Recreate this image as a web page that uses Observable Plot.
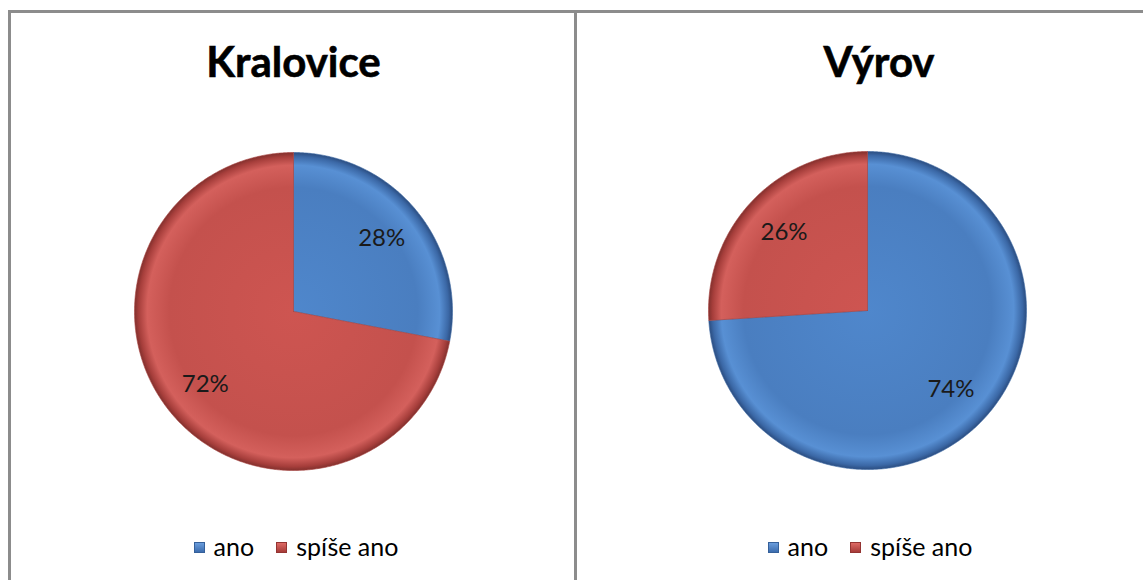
<!DOCTYPE html>
<html><head><meta charset="utf-8">
<script src="https://cdn.jsdelivr.net/npm/d3@7"></script>
<script src="https://cdn.jsdelivr.net/npm/@observablehq/plot@0.6"></script>
<style>
body{margin:0;background:#fff;}
#wrap{position:relative;width:1143px;height:580px;overflow:hidden;font-family:Lato,"Open Sans",sans-serif;background:#fff;}
.panel{position:absolute;top:10px;border:3px solid #8c8c8c;border-bottom:none;height:620px;box-sizing:border-box;}
.chart{position:absolute;top:0;}
.title{position:absolute;top:36px;height:50px;line-height:50px;font-size:42px;font-weight:bold;color:#000;text-align:center;white-space:nowrap;-webkit-text-stroke:0.6px #000;}
.legend{position:absolute;top:531px;height:30px;line-height:30px;font-size:25px;color:#000;text-align:center;width:400px;white-space:nowrap;}
.sw{display:inline-block;width:11px;height:11px;vertical-align:3px;margin-right:9px;box-sizing:border-box;}
.item{display:inline-block;margin:0 11px;}
</style>
</head><body>
<div id="wrap"></div>
<script>
// ---- data ----
const cities = ["Kralovice", "Výrov"];
const categories = ["ano", "spíše ano"];
const kralovice = [28, 72];
const vyrov = [74, 26];
const seriesByCity = [kralovice, vyrov];
const colors = ["#4a7ebb", "#c0504d"];

// ---- layout (not data) ----
const layout = [
  {svgLeft: 8, mL: 126, mR: 122, mT: 152, mB: 110, titleX: 293.5, legendX: 296},
  {svgLeft: 576, mL: 132, mR: 116, mT: 151, mB: 111, titleX: 879, legendX: 870}
];
const gradStops = {
  "ano": [[0, "#4f87cc"], [0.78, "#4a7ec0"], [0.92, "#5890d4"], [0.975, "#3b68a6"], [1, "#2b4d80"]],
  "spíše ano": [[0, "#ce5551"], [0.78, "#c4514d"], [0.92, "#d4605c"], [0.975, "#a63e3b"], [1, "#82302d"]]
};
const sideColor = {"ano": "#3d6aa3", "spíše ano": "#a84340"};

const wrap = document.getElementById("wrap");
// panel borders
const p1 = document.createElement("div"); p1.className = "panel";
p1.style.left = "8px"; p1.style.width = "569px"; wrap.appendChild(p1);
const p2 = document.createElement("div"); p2.className = "panel";
p2.style.left = "574px"; p2.style.width = "700px"; p2.style.borderLeft = "none"; wrap.appendChild(p2);

cities.forEach((city, ci) => {
  const L = layout[ci];
  const rows = categories.map((c, i) => ({city, category: c, value: seriesByCity[ci][i]}));
  const arcs = d3.pie().sort(null).value(d => d.value)(rows);
  // slice outlines in data space (unit circle, 0 = 12 o'clock, clockwise)
  const slicePts = arcs.map(a => {
    const pts = [{x: 0, y: 0, category: a.data.category}];
    const n = Math.max(2, Math.ceil((a.endAngle - a.startAngle) / (Math.PI / 360)));
    for (let k = 0; k <= n; k++) {
      const t = a.startAngle + (a.endAngle - a.startAngle) * k / n;
      pts.push({x: Math.sin(t), y: Math.cos(t), category: a.data.category});
    }
    pts.push({x: 0, y: 0, category: a.data.category});
    return pts;
  });
  const labels = arcs.map(a => {
    const m = (a.startAngle + a.endAngle) / 2;
    return {x: 0.72 * Math.sin(m), y: 0.72 * Math.cos(m), text: a.data.value + "%"};
  });
  const gid = c => `g${ci}-${categories.indexOf(c)}`;

  const defsMark = (index, scales) => {
    const cx = scales.x(0), cy = scales.y(0), r = scales.x(1) - cx;
    const defs = d3.create("svg:defs");
    categories.forEach(c => {
      const g = defs.append("radialGradient").attr("id", gid(c))
        .attr("gradientUnits", "userSpaceOnUse")
        .attr("cx", cx).attr("cy", cy).attr("r", r);
      gradStops[c].forEach(([o, col]) => g.append("stop").attr("offset", o).attr("stop-color", col));
    });
    return defs.node();
  };

  const chart = Plot.plot({
    width: 566, height: 580,
    marginLeft: L.mL, marginRight: L.mR, marginTop: L.mT, marginBottom: L.mB,
    x: {domain: [-1, 1], axis: null},
    y: {domain: [-1, 1], axis: null},
    style: {background: "transparent", overflow: "visible"},
    marks: [
      defsMark,
      ...slicePts.map(pts => Plot.line(pts, {
        x: "x", y: "y", fill: `url(#${gid(pts[0].category)})`,
        stroke: sideColor[pts[0].category], strokeWidth: 0.8, strokeOpacity: 0.8
      })),
      Plot.text(labels, {x: "x", y: "y", text: "text", fontSize: 24, fill: "#1a1a1a",
        fontFamily: "Lato, 'Open Sans', sans-serif"})
    ]
  });
  chart.classList.add("chart");
  chart.style.left = L.svgLeft + "px";
  wrap.appendChild(chart);

  const t = document.createElement("div");
  t.className = "title"; t.textContent = city;
  t.style.left = (L.titleX - 150) + "px"; t.style.width = "300px";
  wrap.appendChild(t);

  const lg = document.createElement("div");
  lg.className = "legend";
  lg.style.left = (L.legendX - 200) + "px";
  categories.forEach((c, i) => {
    const it = document.createElement("span"); it.className = "item";
    const sw = document.createElement("span"); sw.className = "sw";
    sw.style.background = i === 0 ? "linear-gradient(#6a9ddc,#3c6cae)" : "linear-gradient(#de6a65,#a63b38)";
    sw.style.border = "1px solid " + (i === 0 ? "#35609a" : "#943432");
    it.appendChild(sw);
    it.appendChild(document.createTextNode(c));
    lg.appendChild(it);
  });
  wrap.appendChild(lg);
});
</script>
</body></html>
